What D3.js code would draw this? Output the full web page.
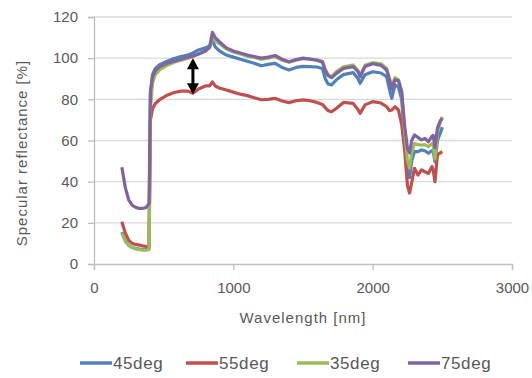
<!DOCTYPE html>
<html>
<head>
<meta charset="utf-8">
<script src="https://cdn.jsdelivr.net/npm/d3@7"></script>
<style>
  body { margin: 0; background: #fff; }
  text { font-family: "Liberation Sans", Arial, sans-serif; fill: #595959; }
</style>
</head>
<body>
<div id="chart"></div>
<script>
// wavelength samples [nm]
var wavelengths = [200, 225, 250, 275, 300, 325, 350, 375, 395, 405, 420, 440, 475, 525, 575, 625, 675, 710, 750, 800,
    830, 850, 870, 900, 950, 1000, 1050, 1100, 1150, 1200, 1250, 1300, 1350, 1400, 1450, 1500, 1550, 1600, 1640, 1660,
    1680, 1705, 1740, 1790, 1860, 1895, 1910, 1945, 2000, 2060, 2100, 2120, 2137, 2160, 2185, 2208, 2230, 2250, 2265, 2280,
    2300, 2325, 2350, 2375, 2400, 2425, 2435, 2447, 2465, 2485, 2500];

var deg45 = [15.5, 11.5, 9, 8, 7.5, 7.3, 7, 7, 7.5, 82, 92, 95, 97, 98.5, 99.8, 100.8, 101.5, 102.5, 104, 105,
    106, 108.5, 105.5, 103.5, 101.5, 100.5, 99.5, 98.5, 97.5, 96.3, 97, 97.5, 95.5, 94.3, 95.5, 96, 95.9, 95.7, 95, 90,
    87.5, 87, 89.5, 92, 93, 90, 87.8, 92, 93.4, 92.8, 91, 85, 80.5, 87, 86, 80, 60, 46, 42, 50,
    54.6, 54.6, 55.4, 55, 53.8, 55, 54.5, 49.7, 60, 63.5, 66.5];

var deg55 = [20.5, 15, 11.5, 10, 9.5, 9.2, 8.8, 8.5, 8.5, 70, 75.5, 78, 80, 82, 83.3, 84, 84, 83, 85, 86.5,
    86.5, 88.5, 86.5, 85.5, 84.5, 83.5, 82.5, 81.8, 80.8, 79.8, 80, 80.5, 79.2, 78.4, 79.3, 79.7, 79.3, 78.5, 77.5, 76,
    74.5, 74, 75.7, 78.5, 78, 75, 73.2, 77.3, 78.9, 78.2, 76.5, 74.5, 74.8, 76.4, 74.8, 68, 55, 38, 34.5, 39.5,
    46.5, 43.2, 45.7, 44.8, 44, 47.3, 45.5, 40, 53, 54, 54.6];

var deg35 = [15, 11, 9, 8, 7.3, 7, 6.8, 6.7, 7, 75, 88, 92, 94.5, 96.5, 98, 99, 100, 100.8, 102, 103.5,
    105, 110.5, 108.5, 107, 104.5, 103, 102, 101, 100.3, 99.5, 100, 100.8, 99, 98, 99, 99.8, 99.5, 99.2, 98.5, 94.5,
    92, 91, 93.5, 95.8, 96.7, 94, 91.5, 96.5, 97.8, 97.3, 95, 90.5, 86.5, 90.5, 89.5, 84, 64, 50, 46.5, 54,
    58.5, 58, 57.8, 58, 57, 58.5, 57.5, 51, 64, 69, 71.5];

var deg75 = [47, 37, 31, 28.5, 27.5, 27, 27, 27.5, 29.5, 84, 91, 94, 96, 97.5, 98.5, 99.5, 100.5, 101, 102, 103.5,
    105.5, 112.5, 110, 108, 105, 103.5, 102.5, 101.5, 100.8, 100, 100.5, 101.3, 99.5, 98.3, 99.3, 100, 99.5, 99, 98, 94,
    91.5, 90.5, 92.6, 95, 95.9, 93.5, 91, 95.9, 97.3, 96.5, 94.3, 89.5, 85, 89.5, 89, 83.7, 67, 56, 54, 60,
    62.7, 61.5, 60.3, 61, 59.4, 62, 62.5, 56.5, 66, 69.5, 70.8];

var seriesNames = ["45deg", "55deg", "35deg", "75deg"];
var seriesValues = [deg45, deg55, deg35, deg75];
var seriesColors = ["#4F81BD", "#C0504D", "#9BBB59", "#8064A2"];

var xTicks = [0, 1000, 2000, 3000];
var yTicks = [0, 20, 40, 60, 80, 100, 120];

// double arrow annotation (wavelength, reflectance from/to)
var arrowX = 710;
var arrowY = [100, 82.5];

var W = 532, H = 378;
var margin = { top: 17, right: 20, bottom: 114, left: 94 },
    width = W - margin.left - margin.right,
    height = H - margin.top - margin.bottom;

var svg = d3.select("#chart")
    .append("svg")
    .attr("width", W)
    .attr("height", H);

var g = svg.append("g")
    .attr("transform", "translate(" + margin.left + "," + margin.top + ")");

var x = d3.scaleLinear().domain([0, 3000]).range([0, width]);
var y = d3.scaleLinear().domain([0, 120]).range([height, 0]);

// gridlines
g.append("g")
    .selectAll("line")
    .data(yTicks.slice(1))
    .enter().append("line")
    .attr("x1", 0).attr("x2", width)
    .attr("y1", d => y(d)).attr("y2", d => y(d))
    .attr("stroke", "#d9d9d9")
    .attr("stroke-width", 1.3);

// y axis
var yAxis = g.append("g")
    .call(d3.axisLeft(y).tickValues(yTicks).tickSize(6).tickPadding(10));
yAxis.select(".domain").attr("stroke", "#bfbfbf").attr("stroke-width", 1.3);
yAxis.selectAll(".tick line").attr("stroke", "#bfbfbf").attr("stroke-width", 1.3);
yAxis.selectAll("text").style("font-size", "15px").attr("fill", "#595959");

// x axis
var xAxis = g.append("g")
    .attr("transform", "translate(0," + height + ")")
    .call(d3.axisBottom(x).tickValues(xTicks).tickFormat(d3.format("d")).tickSize(6).tickPadding(12));
xAxis.select(".domain").attr("stroke", "#bfbfbf").attr("stroke-width", 1.3);
xAxis.selectAll(".tick line").attr("stroke", "#bfbfbf").attr("stroke-width", 1.3);
xAxis.selectAll("text").style("font-size", "15px").attr("fill", "#595959");

// series lines
var line = d3.line()
    .x((d, i) => x(wavelengths[i]))
    .y(d => y(d));

seriesValues.forEach(function (vals, k) {
    g.append("path")
        .datum(vals)
        .attr("fill", "none")
        .attr("stroke", seriesColors[k])
        .attr("stroke-width", 3.2)
        .attr("stroke-linejoin", "round")
        .attr("d", line);
});

// double-headed arrow
var ax = x(arrowX), ay0 = y(arrowY[0]), ay1 = y(arrowY[1]);
g.append("line")
    .attr("x1", ax).attr("x2", ax)
    .attr("y1", ay0 + 6).attr("y2", ay1 - 6)
    .attr("stroke", "#000")
    .attr("stroke-width", 3);
g.append("path")
    .attr("d", "M" + ax + "," + ay0 + "L" + (ax - 6) + "," + (ay0 + 11) + "L" + (ax + 6) + "," + (ay0 + 11) + "Z")
    .attr("fill", "#000");
g.append("path")
    .attr("d", "M" + ax + "," + ay1 + "L" + (ax - 6) + "," + (ay1 - 11) + "L" + (ax + 6) + "," + (ay1 - 11) + "Z")
    .attr("fill", "#000");

// axis titles
svg.append("text")
    .attr("x", margin.left + width / 2)
    .attr("y", 323)
    .attr("text-anchor", "middle")
    .style("font-size", "15px")
    .style("letter-spacing", "1px")
    .text("Wavelength [nm]");

svg.append("text")
    .attr("transform", "translate(27,153) rotate(-90)")
    .attr("text-anchor", "middle")
    .style("font-size", "15px")
    .style("letter-spacing", "1px")
    .text("Specular reflectance [%]");

// legend
var legendX = [80, 186, 297, 408];
var lg = svg.append("g");
seriesNames.forEach(function (name, k) {
    lg.append("line")
        .attr("x1", legendX[k]).attr("x2", legendX[k] + 32)
        .attr("y1", 363).attr("y2", 363)
        .attr("stroke", seriesColors[k])
        .attr("stroke-width", 3.5);
    lg.append("text")
        .attr("x", legendX[k] + 33)
        .attr("y", 369)
        .style("font-size", "17px")
        .style("letter-spacing", "0.6px")
        .text(name);
});
</script>
</body>
</html>
